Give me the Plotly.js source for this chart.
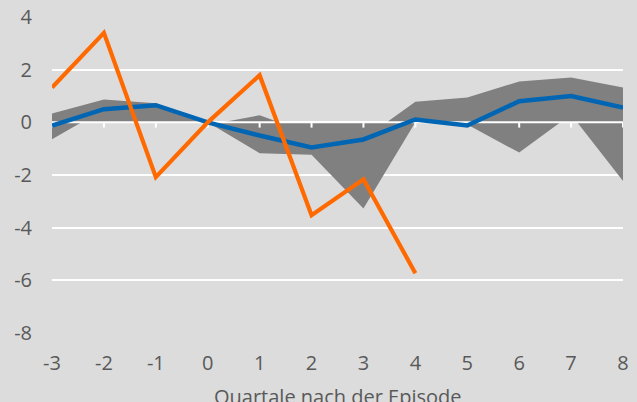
<!DOCTYPE html>
<html>
<head>
<meta charset="utf-8">
<script src="https://cdn.plot.ly/plotly-3.0.1.min.js"></script>
<style>html,body{margin:0;padding:0;background:#dcdcdc;}#chart{width:637px;height:402px;}</style>
</head>
<body>
<div id="chart"></div>
<script>
// Quarters relative to the episode
const quarters = [-3, -2, -1, 0, 1, 2, 3, 4, 5, 6, 7, 8];
// Range band (upper and lower bound), each filled to zero
const bandUpper = [0.34, 0.87, 0.72, -0.1, 0.27, -0.44, -0.63, 0.78, 0.94, 1.55, 1.70, 1.32];
const bandLower = [-0.64, 0.49, 0.5, 0, -1.17, -1.23, -3.27, 0, -0.08, -1.15, 0.3, -2.23];
// Blue line (average)
const blueSeries = [-0.12, 0.5, 0.65, 0, -0.5, -0.95, -0.65, 0.11, -0.12, 0.8, 1.0, 0.56];
// Orange line (current episode, up to quarter 4)
const orangeQuarters = [-3, -2, -1, 0, 1, 2, 3, 4];
const orangeSeries = [1.32, 3.4, -2.08, 0, 1.79, -3.53, -2.16, -5.73];
// Tick labels
const xTickVals = quarters;
const xTickText = ['-3', '-2', '-1', '0', '1', '2', '3', '4', '5', '6', '7', '8'];
const yTickVals = [-8, -6, -4, -2, 0, 2, 4];
const yTickText = ['-8', '-6', '-4', '-2', '0', '2', '4'];
const xTitle = 'Quartale nach der Episode';

const BAND = '#808080';
const tickLen = 0.2; // in data units, for the small axis ticks at zero

const traces = [
  {x: quarters, y: bandUpper, type: 'scatter', mode: 'lines', fill: 'tozeroy',
   fillcolor: BAND, line: {width: 0, color: BAND}, hoverinfo: 'skip', showlegend: false},
  {x: quarters, y: bandLower, type: 'scatter', mode: 'lines', fill: 'tozeroy',
   fillcolor: BAND, line: {width: 0, color: BAND}, hoverinfo: 'skip', showlegend: false},
  // zero axis line with downward ticks
  {x: quarters, y: quarters.map(() => 0), type: 'scatter', mode: 'lines',
   line: {color: '#ffffff', width: 2}, hoverinfo: 'skip', showlegend: false,
   error_y: {type: 'data', symmetric: false, array: quarters.map(() => 0),
             arrayminus: quarters.map(() => tickLen), color: '#ffffff', thickness: 2, width: 0}},
  {x: quarters, y: blueSeries, type: 'scatter', mode: 'lines',
   line: {color: '#0066b3', width: 4.5}, showlegend: false},
  {x: orangeQuarters, y: orangeSeries, type: 'scatter', mode: 'lines',
   line: {color: '#ff6a00', width: 4.2}, showlegend: false}
];

const font = {family: '"Open Sans", "Noto Sans", sans-serif', color: '#595959'};

const layout = {
  width: 637, height: 402,
  paper_bgcolor: '#dcdcdc', plot_bgcolor: '#dcdcdc',
  margin: {l: 52, r: 14, t: 17, b: 69},
  showlegend: false,
  font: font,
  xaxis: {
    range: [-3, 8], tickmode: 'array', tickvals: xTickVals, ticktext: xTickText,
    showgrid: false, zeroline: false, showline: false, ticks: '',
    tickfont: {size: 20, color: '#595959', family: font.family},
    ticklabelstandoff: 16
  },
  yaxis: {
    range: [-8, 4], tickmode: 'array', tickvals: yTickVals, ticktext: yTickText,
    showgrid: true, gridcolor: '#ffffff', gridwidth: 2, zeroline: false, showline: false, ticks: '',
    tickfont: {size: 20, color: '#595959', family: font.family},
    ticklabelstandoff: 19
  },
  annotations: [{
    text: xTitle, xref: 'paper', yref: 'paper', x: 0.5, y: -0.152,
    xanchor: 'center', yanchor: 'top', showarrow: false,
    font: {size: 20, color: '#595959', family: font.family}
  }]
};

Plotly.newPlot('chart', traces, layout, {displayModeBar: false, staticPlot: true});
</script>
</body>
</html>
